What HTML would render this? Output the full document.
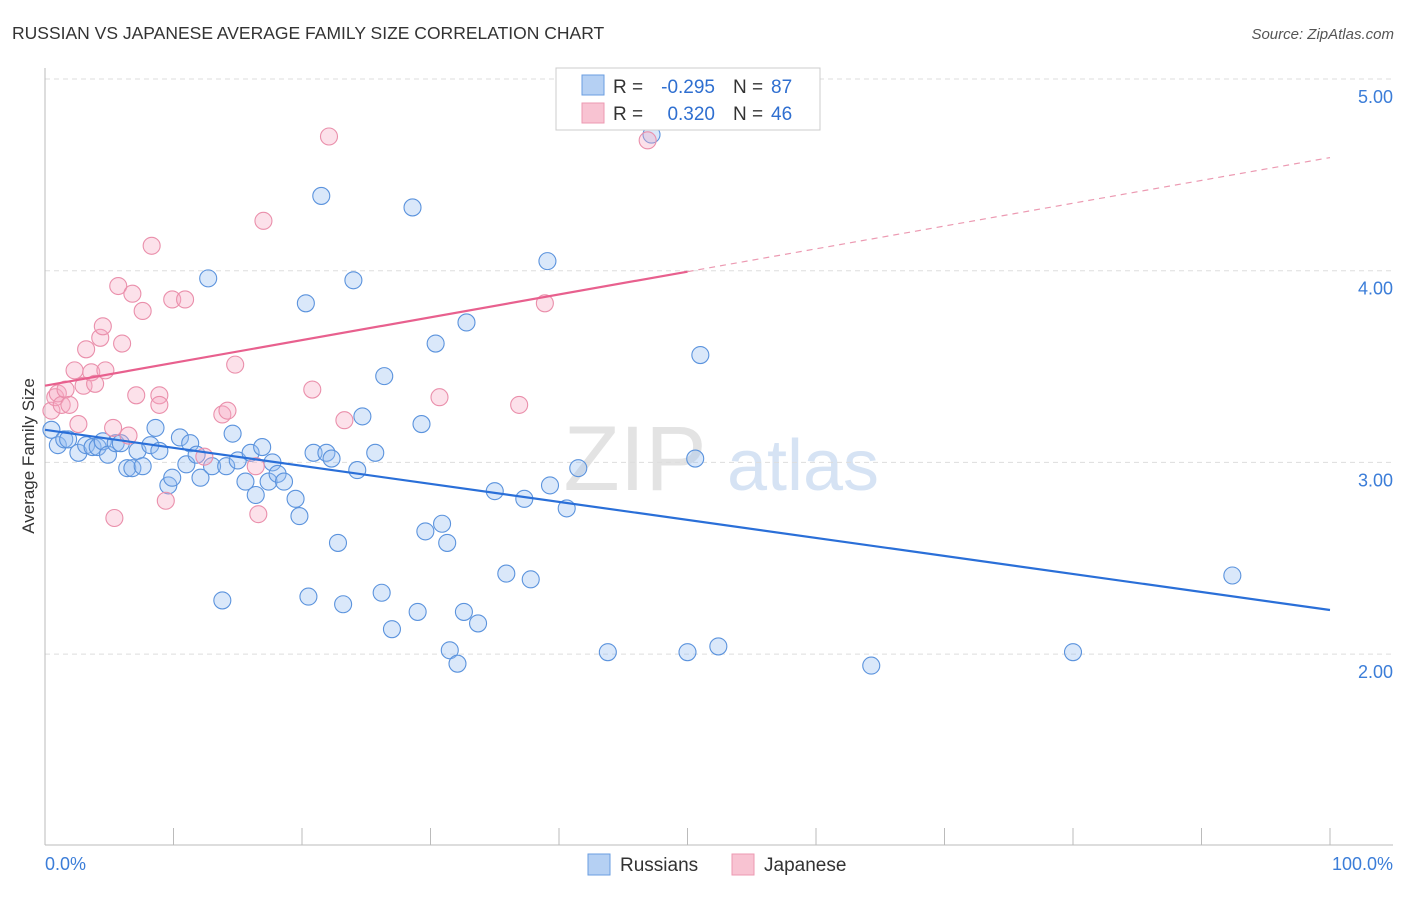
<!DOCTYPE html>
<html><head><meta charset="utf-8"><style>
body{margin:0;background:#fff;font-family:"Liberation Sans",sans-serif;}
svg text{font-family:"Liberation Sans",sans-serif;}
</style></head><body>
<svg id="chart" width="1406" height="892" xmlns="http://www.w3.org/2000/svg">
<text x="12" y="39" font-size="17.5" fill="#333">RUSSIAN VS JAPANESE AVERAGE FAMILY SIZE CORRELATION CHART</text>
<text x="1394" y="39" font-size="15" fill="#555" font-style="italic" text-anchor="end">Source: ZipAtlas.com</text>
<g>
<text x="635" y="490" font-size="92" fill="#d8d8d8" font-family="Liberation Serif" text-anchor="middle" opacity="0.7">ZIP</text>
<text x="803" y="490" font-size="72" fill="#c5d8f0" text-anchor="middle" opacity="0.7">atlas</text>
</g>
<g id="grid"></g>
<g id="axes"></g>
<g id="pts"></g>
<g id="trends"></g>
<text transform="translate(34,456) rotate(-90)" font-size="17" fill="#333" text-anchor="middle">Average Family Size</text>
<g>
<rect x="556" y="68" width="264" height="62" fill="#fff" stroke="#ccc"/>
<rect x="582" y="75" width="22" height="20" fill="#b5d0f3" stroke="#6a9ee0"/>
<rect x="582" y="103" width="22" height="20" fill="#f8c3d2" stroke="#ec9ab2"/>
<text x="613" y="93" font-size="19" fill="#333">R =</text>
<text x="715" y="93" font-size="19" fill="#2f6fd0" text-anchor="end">-0.295</text>
<text x="733" y="93" font-size="19" fill="#333">N =</text>
<text x="771" y="93" font-size="19" fill="#2f6fd0">87</text>
<text x="613" y="120" font-size="19" fill="#333">R =</text>
<text x="715" y="120" font-size="19" fill="#2f6fd0" text-anchor="end">0.320</text>
<text x="733" y="120" font-size="19" fill="#333">N =</text>
<text x="771" y="120" font-size="19" fill="#2f6fd0">46</text>
</g>
<g>
<rect x="588" y="854" width="22" height="21" fill="#b5d0f3" stroke="#6a9ee0"/>
<text x="620" y="871" font-size="19" fill="#333">Russians</text>
<rect x="732" y="854" width="22" height="21" fill="#f8c3d2" stroke="#ec9ab2"/>
<text x="764" y="871" font-size="19" fill="#333">Japanese</text>
</g>
</svg>
<script>
const yTicks=[5,4,3,2];
const yTickLabels=["5.00","4.00","3.00","2.00"];
const xTickLabels=["0.0%","100.0%"];
const rusX=[0.5,1.0,1.5,1.8,2.6,3.2,3.7,4.1,4.5,4.9,5.5,5.9,6.4,6.8,7.2,7.6,8.2,8.6,8.9,9.6,9.9,10.5,11.0,11.3,11.8,12.1,12.7,13.0,13.8,14.1,14.6,15.0,15.6,16.0,16.4,16.9,17.4,17.7,18.1,18.6,19.5,19.8,20.3,20.5,20.9,21.5,21.9,22.3,22.8,23.2,24.0,24.3,24.7,25.7,26.2,26.4,27.0,28.6,29.0,29.3,29.6,30.4,30.9,31.3,31.5,32.1,32.6,32.8,33.7,35.0,35.9,37.3,37.8,39.1,39.3,40.6,41.5,43.8,47.2,50.0,50.6,51.0,52.4,64.3,80.0,92.4];
const rusY=[3.17,3.09,3.12,3.12,3.05,3.09,3.08,3.08,3.11,3.04,3.10,3.10,2.97,2.97,3.06,2.98,3.09,3.18,3.06,2.88,2.92,3.13,2.99,3.10,3.04,2.92,3.96,2.98,2.28,2.98,3.15,3.01,2.90,3.05,2.83,3.08,2.90,3.00,2.94,2.90,2.81,2.72,3.83,2.30,3.05,4.39,3.05,3.02,2.58,2.26,3.95,2.96,3.24,3.05,2.32,3.45,2.13,4.33,2.22,3.20,2.64,3.62,2.68,2.58,2.02,1.95,2.22,3.73,2.16,2.85,2.42,2.81,2.39,4.05,2.88,2.76,2.97,2.01,4.71,2.01,3.02,3.56,2.04,1.94,2.01,2.41];
const japX=[0.5,0.8,1.0,1.3,1.6,1.9,2.3,2.6,3.0,3.2,3.6,3.9,4.3,4.5,4.7,5.4,5.3,5.7,6.0,6.5,6.8,7.1,7.6,8.3,8.9,8.9,9.4,9.9,10.9,12.4,13.8,14.2,14.8,16.4,16.6,17.0,20.8,22.1,23.3,30.7,36.9,38.9,46.9];
const japY=[3.27,3.34,3.36,3.30,3.38,3.30,3.48,3.20,3.40,3.59,3.47,3.41,3.65,3.71,3.48,2.71,3.18,3.92,3.62,3.14,3.88,3.35,3.79,4.13,3.35,3.30,2.80,3.85,3.85,3.03,3.25,3.27,3.51,2.98,2.73,4.26,3.38,4.70,3.22,3.34,3.30,3.83,4.68];
const rusTrend=[3.17,2.23];
const japTrend=[3.40,4.59];
const NS="http://www.w3.org/2000/svg";
const X0=45,X1=1330;
function sx(v){return X0+(X1-X0)*v/100;}
function sy(v){return 79+(5-v)*191.7;}
function mk(tag,attrs,parent){const e=document.createElementNS(NS,tag);for(const k in attrs)e.setAttribute(k,attrs[k]);parent.appendChild(e);return e;}
const grid=document.getElementById('grid'),axes=document.getElementById('axes');
yTicks.forEach((t,i)=>{
 const l=mk('line',{x1:X0,x2:1393,y1:sy(t),y2:sy(t),stroke:'#ddd','stroke-dasharray':'5,4'},grid);
 
 
 const tx=mk('text',{x:1393,y:sy(t)+24,'font-size':18,fill:'#3b7dd8','text-anchor':'end'},axes);
 tx.textContent=yTickLabels[i];
 
 
});
mk('line',{x1:X0,x2:X0,y1:68,y2:845,stroke:'#bbb'},axes);
mk('line',{x1:X0,x2:1393,y1:845,y2:845,stroke:'#bbb'},axes);
for(let i=1;i<=10;i++){const x=sx(i*10);mk('line',{x1:x,x2:x,y1:828,y2:845,stroke:'#bbb'},axes);}
const xl0=mk('text',{x:45,y:870,'font-size':18,fill:'#3b7dd8'},axes);xl0.textContent=xTickLabels[0];


const xl1=mk('text',{x:1393,y:870,'font-size':18,fill:'#3b7dd8','text-anchor':'end'},axes);xl1.textContent=xTickLabels[1];


const pts=document.getElementById('pts');
rusX.forEach((x,i)=>{const c=mk('circle',{cx:sx(x),cy:sy(rusY[i]),r:8.5,fill:'rgba(150,190,240,0.35)',stroke:'#5b93dd','stroke-width':1.1},pts);
 
 });
japX.forEach((x,i)=>{const c=mk('circle',{cx:sx(x),cy:sy(japY[i]),r:8.5,fill:'rgba(245,170,195,0.35)',stroke:'#ea8fab','stroke-width':1.1},pts);
 
 });
const tr=document.getElementById('trends');
const rl=mk('line',{x1:sx(0),y1:sy(rusTrend[0]),x2:sx(100),y2:sy(rusTrend[1]),stroke:'#2a6fd8','stroke-width':2.2},tr);


const jm=japTrend[0]+(japTrend[1]-japTrend[0])*0.5;
const jl=mk('line',{x1:sx(0),y1:sy(japTrend[0]),x2:sx(50),y2:sy(jm),stroke:'#e8608e','stroke-width':2.2},tr);


const jd=mk('line',{x1:sx(50),y1:sy(jm),x2:sx(100),y2:sy(japTrend[1]),stroke:'#ec9ab2','stroke-width':1.2,'stroke-dasharray':'6,5'},tr);


</script>
</body></html>
